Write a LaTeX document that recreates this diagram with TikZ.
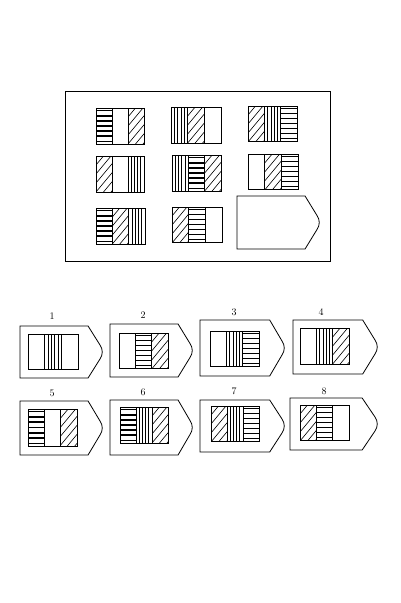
\documentclass[tikz,border=0pt]{standalone}
\begin{document}
\begin{tikzpicture}[x=1pt,y=-1pt,
  frame/.style={line width=0.8pt},
  lbl/.style={font=\normalsize,inner sep=0pt}]
\useasboundingbox (0,0) rectangle (401,603);
% strip patterns: #1 x1, #2 y1 (top), #3 x2, #4 y2 (bottom)
\newcommand\Hs[4]{\begin{scope}\clip(#1,#2)rectangle(#3,#4);
  \foreach\k in{1,...,7}{\draw[line width=1.7pt]({#1},{#2+(#4-#2)*(\k-0.5)/7})--({#3},{#2+(#4-#2)*(\k-0.5)/7});}\end{scope}}
\newcommand\Vs[4]{\foreach\k in{1,...,4}{\draw[line width=0.7pt]({#1+(#3-#1)*\k/5},{#2})--({#1+(#3-#1)*\k/5},{#4});}}
\newcommand\Ds[4]{\begin{scope}\clip(#1,#2)rectangle(#3,#4);
  \foreach\k in{0,...,8}{\draw[line width=0.6pt]({#1},{#2+\k*9})--({#3},{#2+\k*9-1.2*(#3-#1)});}\end{scope}}
\newcommand\Ws[4]{}
\newcommand\cellbox[7]{%
  \pgfmathsetmacro\xa{#1+(#3-#1)/3}\pgfmathsetmacro\xb{#1+2*(#3-#1)/3}%
  #5{#1}{#2}{\xa}{#4}#6{\xa}{#2}{\xb}{#4}#7{\xb}{#2}{#3}{#4}%
  \draw[frame] (#1,#2) rectangle (#3,#4) (\xa,#2)--(\xa,#4) (\xb,#2)--(\xb,#4);}
\newcommand\penta[4]{%
  \pgfmathsetmacro\pbx{#1+0.82*(#3-#1)}\pgfmathsetmacro\pym{(#2+#4)/2}%
  \draw[frame] (#1,#2) -- (\pbx,#2) -- ({#3-3},{\pym-7}) .. controls ({#3},{\pym-3}) and ({#3},{\pym+3}) .. ({#3-3},{\pym+7}) -- (\pbx,#4) -- (#1,#4) -- cycle;}
% matrix
\draw[frame] (65,91) rectangle (330,261);
\cellbox{96}{108}{144}{144}{\Hs}{\Ws}{\Ds}
\cellbox{171}{107}{221}{143}{\Vs}{\Ds}{\Ws}
\cellbox{248}{106}{297}{141}{\Ds}{\Vs}{\Hs}
\cellbox{96}{156}{144}{192}{\Ds}{\Ws}{\Vs}
\cellbox{172}{155}{221}{191}{\Vs}{\Hs}{\Ds}
\cellbox{248}{154}{298}{189}{\Ws}{\Ds}{\Hs}
\cellbox{96}{208}{145}{244}{\Hs}{\Ds}{\Vs}
\cellbox{172}{207}{222}{242}{\Ds}{\Hs}{\Ws}
\penta{237}{196}{320}{249}
% options
\node[lbl] (l1) at (52,316) {1};
\penta{20}{326}{103}{378}\cellbox{28}{334}{78}{369}{\Ws}{\Vs}{\Ws}
\node[lbl] (l2) at (143,315) {2};
\penta{110}{324}{193}{377}\cellbox{119}{333}{168}{368}{\Ws}{\Hs}{\Ds}
\node[lbl] (l3) at (234,312) {3};
\penta{200}{320}{285}{376}\cellbox{210}{331}{259}{366}{\Ws}{\Vs}{\Hs}
\node[lbl] (l4) at (321,312) {4};
\penta{293}{320}{378}{374}\cellbox{300}{328}{349}{364}{\Ws}{\Vs}{\Ds}
\node[lbl] (l5) at (52,393) {5};
\penta{20}{401}{103}{455}\cellbox{28}{409}{77}{446}{\Hs}{\Ws}{\Ds}
\node[lbl] (l6) at (143,392) {6};
\penta{110}{400}{193}{455}\cellbox{120}{407}{168}{443}{\Hs}{\Vs}{\Ds}
\node[lbl] (l7) at (234,391) {7};
\penta{200}{400}{285}{452}\cellbox{211}{406}{259}{441}{\Ds}{\Vs}{\Hs}
\node[lbl] (l8) at (324,391) {8};
\penta{290}{398}{378}{450}\cellbox{300}{405}{349}{440}{\Ds}{\Hs}{\Ws}
\end{tikzpicture}
\end{document}
